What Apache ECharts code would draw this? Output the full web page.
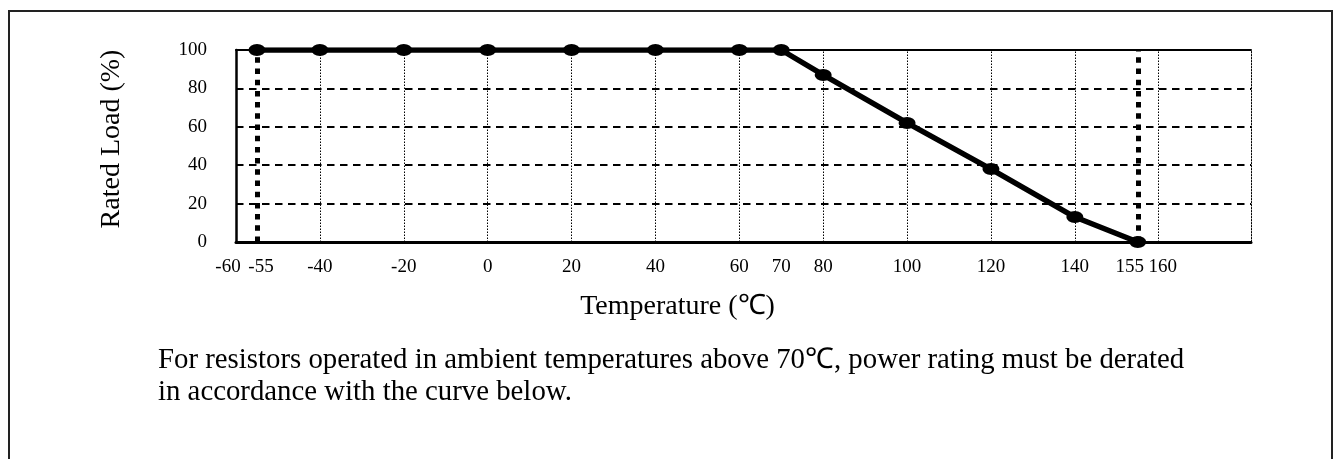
<!DOCTYPE html>
<html>
<head>
<meta charset="utf-8">
<title>Power derating curve</title>
<script src="https://cdn.jsdelivr.net/npm/echarts@6/dist/echarts.min.js"></script>
<style>
  html, body { margin: 0; padding: 0; background: #fff; }
  #chart { width: 1336px; height: 459px; }
</style>
</head>
<body>
<div id="chart"></div>
<script>
// ambient temperature of each point on the curve (℃)
const temps = [-55, -40, -20, 0, 20, 40, 60, 70, 80, 100, 120, 140, 155]
// rated load at that temperature (%)
const loads = [100, 100, 100, 100, 100, 100, 100, 100, 87, 62, 38, 13, 0]
// tick labels under the x axis
const xTicks = [-60, -55, -40, -20, 0, 20, 40, 60, 70, 80, 100, 120, 140, 155, 160]
// dotted vertical grid lines
const xGrid = [-40, -20, 0, 20, 40, 60, 80, 100, 120, 140, 160]
// y axis ticks
const yTicks = [0, 20, 40, 60, 80, 100]
// note under the chart
const note = [
  'For resistors operated in ambient temperatures above 70℃, power rating must be derated',
  'in accordance with the curve below.'
]

const serif = '"Liberation Serif", "Times New Roman", serif'
const chart = echarts.init(document.getElementById('chart'))

// thin dotted grid lines + thick dotted lines at the range limits
const gridLines = xGrid.map(t => ({
  xAxis: t,
  lineStyle: { color: '#000', width: 1, type: [1.5, 1.5] }
}))
const limitLines = [temps[0], temps[temps.length - 1]].map(t => ({
  xAxis: t,
  lineStyle: { color: '#000', width: 5, type: [5.5, 5.7] }
}))

// tick labels that sit close together are nudged apart
const labelRich = {
  l: { fontSize: 19, fontFamily: serif, color: '#000', padding: [0, 16, 0, 0] },
  r: { fontSize: 19, fontFamily: serif, color: '#000', padding: [0, 0, 0, 8] }
}
function xLabel (v) {
  if (v === xTicks[0] || v === xTicks[xTicks.length - 2]) return '{l|' + v + '}'
  if (v === xTicks[1] || v === xTicks[xTicks.length - 1]) return '{r|' + v + '}'
  return String(v)
}

const option = {
  animation: false,
  backgroundColor: '#fff',
  textStyle: { fontFamily: serif },
  title: {
    text: note.join('\n'),
    left: 153,
    top: 339,
    textStyle: { fontSize: 28.8, fontWeight: 'normal', fontFamily: serif, color: '#000', lineHeight: 32 }
  },
  // outer frame
  graphic: [{
    type: 'rect',
    silent: true,
    shape: { x: 9, y: 11, width: 1323, height: 470 },
    style: { fill: 'none', stroke: '#222', lineWidth: 2 }
  }],
  grid: { left: 236, right: 85, top: 50, bottom: 217 },
  xAxis: [
    {
      type: 'value',
      min: xTicks[0],
      max: 182,
      axisLine: { onZero: false, lineStyle: { color: '#000', width: 3 } },
      axisTick: { show: false },
      splitLine: { show: false },
      axisLabel: {
        customValues: xTicks,
        formatter: xLabel,
        rich: labelRich,
        margin: 16,
        fontSize: 19,
        fontFamily: serif,
        color: '#000'
      },
      name: 'Temperature (℃)',
      nameLocation: 'middle',
      nameGap: 51,
      nameTextStyle: { fontSize: 28, fontFamily: serif, color: '#000', padding: [0, 132, 0, 0] }
    },
    {
      // solid top edge
      type: 'value',
      position: 'top',
      min: xTicks[0],
      max: 182,
      axisLine: { show: true, onZero: false, lineStyle: { color: '#000', width: 2 } },
      axisTick: { show: false },
      axisLabel: { show: false },
      splitLine: { show: false }
    }
  ],
  yAxis: [
    {
      type: 'value',
      min: yTicks[0],
      max: yTicks[yTicks.length - 1],
      interval: yTicks[1] - yTicks[0],
      axisLine: { show: true, onZero: false, lineStyle: { color: '#000', width: 2.5 } },
      axisTick: { show: false },
      splitLine: { show: true, lineStyle: { color: '#000', width: 2, type: [7.5, 5.5] } },
      axisLabel: { margin: 29, fontSize: 19, fontFamily: serif, color: '#000' },
      name: 'Rated Load (%)',
      nameLocation: 'middle',
      nameGap: 110,
      nameTextStyle: { fontSize: 28, fontFamily: serif, color: '#000', padding: [0, 0, 0, 14] }
    },
    {
      // dotted right edge
      type: 'value',
      position: 'right',
      min: yTicks[0],
      max: yTicks[yTicks.length - 1],
      axisLine: { show: true, onZero: false, lineStyle: { color: '#000', width: 1, type: [1.5, 1.5] } },
      axisTick: { show: false },
      axisLabel: { show: false },
      splitLine: { show: false }
    }
  ],
  series: [
    {
      type: 'line',
      data: temps.map((t, i) => [t, loads[i]]),
      symbol: 'path://M0,5 A8,5 0 1,1 16,5 A8,5 0 1,1 0,5 Z',
      symbolSize: [17, 12],
      symbolKeepAspect: false,
      lineStyle: { color: '#000', width: 5.5 },
      itemStyle: { color: '#000' },
      z: 3,
      markLine: {
        silent: true,
        symbol: 'none',
        label: { show: false },
        data: gridLines.concat(limitLines)
      }
    }
  ]
}
chart.setOption(option)
</script>
</body>
</html>
